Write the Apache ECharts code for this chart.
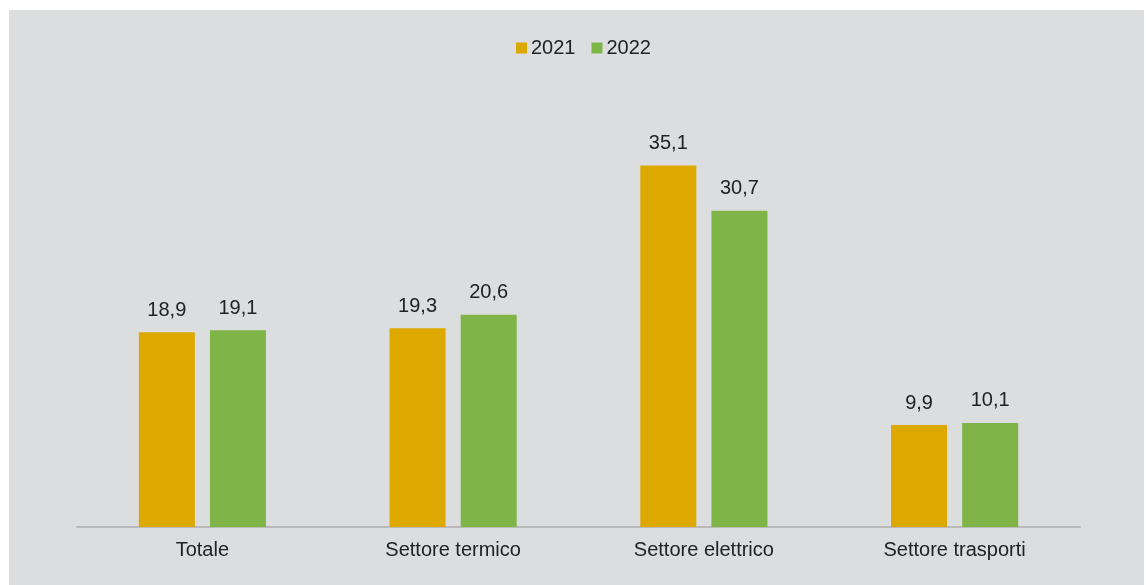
<!DOCTYPE html>
<html>
<head>
<meta charset="utf-8">
<script src="https://cdn.jsdelivr.net/npm/echarts@6/dist/echarts.min.js"></script>
<style>
  html, body { margin: 0; padding: 0; background: #ffffff; }
  #chart { position: absolute; left: 9px; top: 10px; width: 1135px; height: 575px; background: #dcdddf; }
</style>
</head>
<body>
<div id="chart"></div>
<script>
// categorie e valori (%)
var categories = ['Totale', 'Settore termico', 'Settore elettrico', 'Settore trasporti']
var values2021 = [18.9, 19.3, 35.1, 9.9]
var values2022 = [19.1, 20.6, 30.7, 10.1]
var seriesNames = ['2021', '2022']

var chart = echarts.init(document.getElementById('chart'))

var fmt = function (p) {
  return p.value.toFixed(1).replace('.', ',')
}

var option = {
  backgroundColor: '#dcdddf',
  textStyle: { fontFamily: 'Liberation Sans, Arial, sans-serif' },
  legend: {
    top: 23,
    left: 502,
    itemWidth: 11,
    itemHeight: 11,
    itemGap: 16,
    icon: 'rect',
    textStyle: { fontSize: 20, color: '#222', padding: [0, 0, 0, -1] },
    data: seriesNames
  },
  grid: { left: 68, right: 64, top: 105, bottom: 58 },
  xAxis: {
    type: 'category',
    data: categories,
    axisLine: { lineStyle: { color: '#b9b9b9', width: 2 } },
    axisTick: { show: false },
    axisLabel: { fontSize: 20, color: '#222', margin: 13 }
  },
  yAxis: {
    type: 'value',
    min: 0,
    max: 40,
    show: false,
    splitLine: { show: false }
  },
  series: [
    {
      name: seriesNames[0],
      type: 'bar',
      data: values2021,
      barWidth: 56,
      barGap: '27%',
      itemStyle: { color: '#dda800' },
      label: { show: true, position: 'top', distance: 12, fontSize: 20, color: '#222', formatter: fmt }
    },
    {
      name: seriesNames[1],
      type: 'bar',
      data: values2022,
      barWidth: 56,
      itemStyle: { color: '#7fb446' },
      label: { show: true, position: 'top', distance: 12, fontSize: 20, color: '#222', formatter: fmt }
    }
  ]
}

chart.setOption(option)
</script>
</body>
</html>
